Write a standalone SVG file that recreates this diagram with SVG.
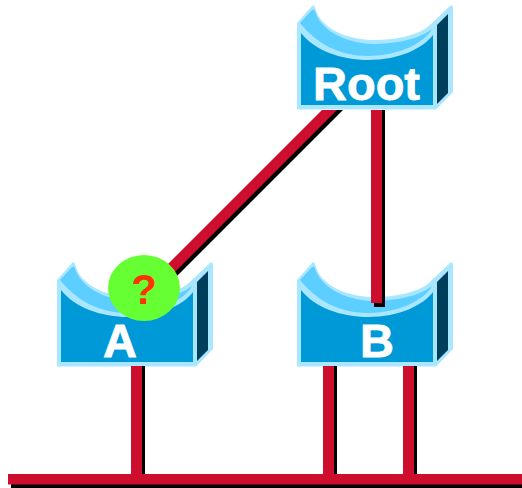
<svg xmlns="http://www.w3.org/2000/svg" width="522" height="488" viewBox="0 0 522 488">
<style>
.red{fill:#ce0e2d}.blk{fill:#000}
.lab{font-family:"Liberation Sans",Arial,sans-serif;font-weight:bold;fill:#fff;text-anchor:middle;font-size:47px;stroke:#fff;stroke-width:.8px}
.q{font-family:"Liberation Sans",Arial,sans-serif;font-weight:bold;fill:#ff3300;text-anchor:middle;font-size:42px}
</style>
<defs>
<g id="bridge">
<path d="M297 23 L312 6 Q314 4 315 7 C319 26 342 39 372 40 C395 40 420 36 432 23 L450 6 Q453 4 453 8 L453 92 L436 109.500 L297 109.500 Z" fill="#a9e6ff"/>
<path d="M300 23 L312 10 Q314 9 315 11 C320 30 345 43 372 44 C395 44 420 39 432 29 C425 42 400 56 368 56 C340 56 317 44 300 23 Z" fill="#5cceff"/>
<path d="M301 33 C315 51 342 60 368 60 C400 60 423 48 433 35 L433 105 L301 105 Z" fill="#0099d8"/>
<path d="M437 25 L448 14 L448 93 L437 104 Z" fill="#003f5c"/>
</g>
</defs>
<g id="root"><use href="#bridge"/><text class="lab" x="366.500" y="100">Root</text></g>
<g id="a"><use href="#bridge" transform="translate(-240 257)"/><text class="lab" x="120" y="357">A</text></g>
<g id="b"><use href="#bridge" transform="translate(0 257)"/><text class="lab" x="377" y="357">B</text></g>
<g id="connectors">
<g class="blk">
<rect x="11" y="477" width="511" height="11"/>
<rect x="134" y="366" width="11" height="111"/>
<rect x="326" y="366" width="11" height="111"/>
<rect x="406" y="366" width="11" height="111"/>
<rect x="374" y="110" width="11" height="197"/>
<polygon points="328,110 343,110 172,281 157,281"/>
</g>
<g class="red">
<rect x="8" y="474" width="514" height="10.500"/>
<rect x="131" y="366" width="11" height="110"/>
<rect x="323" y="366" width="11" height="110"/>
<rect x="403" y="366" width="11" height="110"/>
<rect x="371" y="110" width="11" height="193"/>
<polygon points="322,110 337,110 166,281 151,281"/>
</g>
</g>
<g id="question"><ellipse cx="144" cy="288" rx="36" ry="33" fill="#66ff33"/><text class="q" x="144" y="304">?</text></g>
</svg>
